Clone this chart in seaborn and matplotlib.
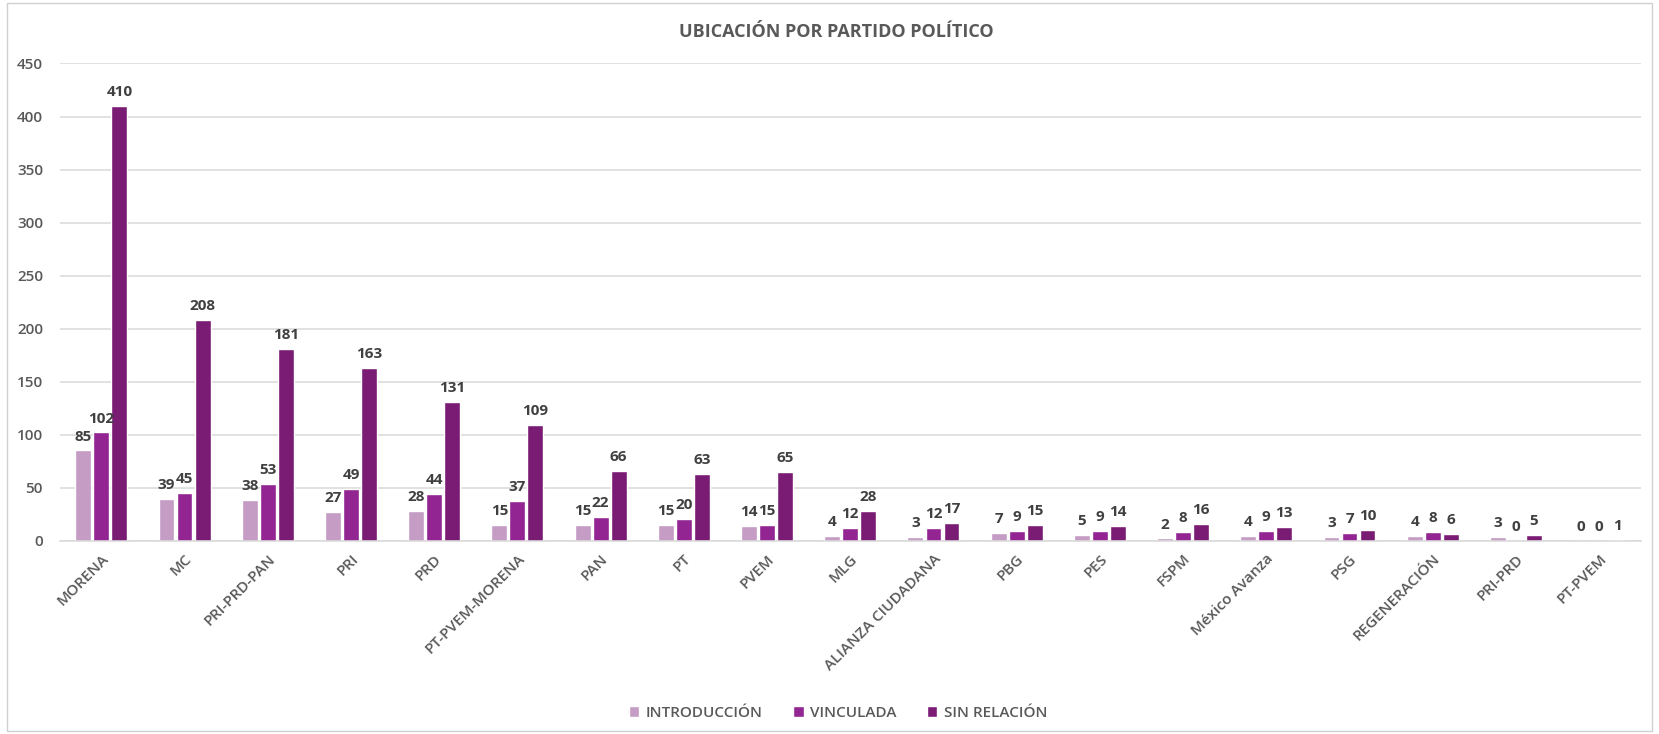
import numpy as np
import pandas as pd
import matplotlib
matplotlib.use("Agg")
import matplotlib.pyplot as plt
import seaborn as sns
from matplotlib.patches import Rectangle

categories = ["MORENA", "MC", "PRI-PRD-PAN", "PRI", "PRD", "PT-PVEM-MORENA", "PAN", "PT",
              "PVEM", "MLG", "ALIANZA CIUDADANA", "PBG", "PES", "FSPM", "México Avanza",
              "PSG", "REGENERACIÓN", "PRI-PRD", "PT-PVEM"]
introduccion = [85, 39, 38, 27, 28, 15, 15, 15, 14, 4, 3, 7, 5, 2, 4, 3, 4, 3, 0]
vinculada = [102, 45, 53, 49, 44, 37, 22, 20, 15, 12, 12, 9, 9, 8, 9, 7, 8, 0, 0]
sin_relacion = [410, 208, 181, 163, 131, 109, 66, 63, 65, 28, 17, 15, 14, 16, 13, 10, 6, 5, 1]
series_names = ["INTRODUCCIÓN", "VINCULADA", "SIN RELACIÓN"]
colors = ["#C49CC4", "#922592", "#7A1C74"]

df = pd.DataFrame({
    "Partido": categories * 3,
    "Serie": [series_names[0]] * len(categories) + [series_names[1]] * len(categories) + [series_names[2]] * len(categories),
    "Valor": introduccion + vinculada + sin_relacion,
})

sns.set_theme(style="white")
plt.rcParams["font.family"] = ["Open Sans", "DejaVu Sans"]

fig = plt.figure(figsize=(16.59, 7.34), dpi=100)
ax = fig.add_axes([0.036, 0.2635, 0.953, 0.65])

sns.barplot(data=df, x="Partido", y="Valor", hue="Serie", order=categories,
            hue_order=series_names, palette=colors, width=0.65, gap=0.12,
            ax=ax, legend=True, saturation=1)

ax.set_ylim(0, 450)
ax.set_xlim(-0.5, len(categories) - 0.5)
ax.set_yticks(np.arange(0, 451, 50))
ax.yaxis.grid(True, color="#D9D9D9", linewidth=1.1)
ax.set_axisbelow(True)
for s in ["top", "right", "left"]:
    ax.spines[s].set_visible(False)
ax.spines["bottom"].set_color("#D9D9D9")
ax.spines["bottom"].set_linewidth(1.1)
ax.set_xlabel("")
ax.set_ylabel("")
ax.tick_params(axis="y", labelsize=11, labelcolor="#595959", length=0, pad=12)
ax.tick_params(axis="x", labelsize=11, labelcolor="#595959", length=0, pad=8)
for lab in ax.get_xticklabels():
    lab.set_rotation(45)
    lab.set_ha("right")
    lab.set_rotation_mode("anchor")
    lab.set_fontweight("semibold")
for lab in ax.get_yticklabels():
    lab.set_fontweight("semibold")

for cont in ax.containers:
    ax.bar_label(cont, padding=5, fontsize=11, color="#404040", fontweight="bold")

ax.legend(loc="center", ncol=3, frameon=False,
          fontsize=11, labelcolor="#595959", handlelength=0.7, handleheight=0.7,
          handletextpad=0.4, columnspacing=2.0,
          prop={"size": 11, "weight": "semibold"})
leg = ax.get_legend()
leg.set_bbox_to_anchor((0.505, 0.029), transform=fig.transFigure)

fig.text(0.504, 0.957, "UBICACIÓN POR PARTIDO POLÍTICO", ha="center", va="center",
         fontsize=13, fontweight="bold", color="#595959")

fig.patches.append(Rectangle((0.004, 0.004), 0.992, 0.992, transform=fig.transFigure,
                             fill=False, edgecolor="#D0D0D0", linewidth=1.0))

fig.savefig("out.png", dpi=100)
